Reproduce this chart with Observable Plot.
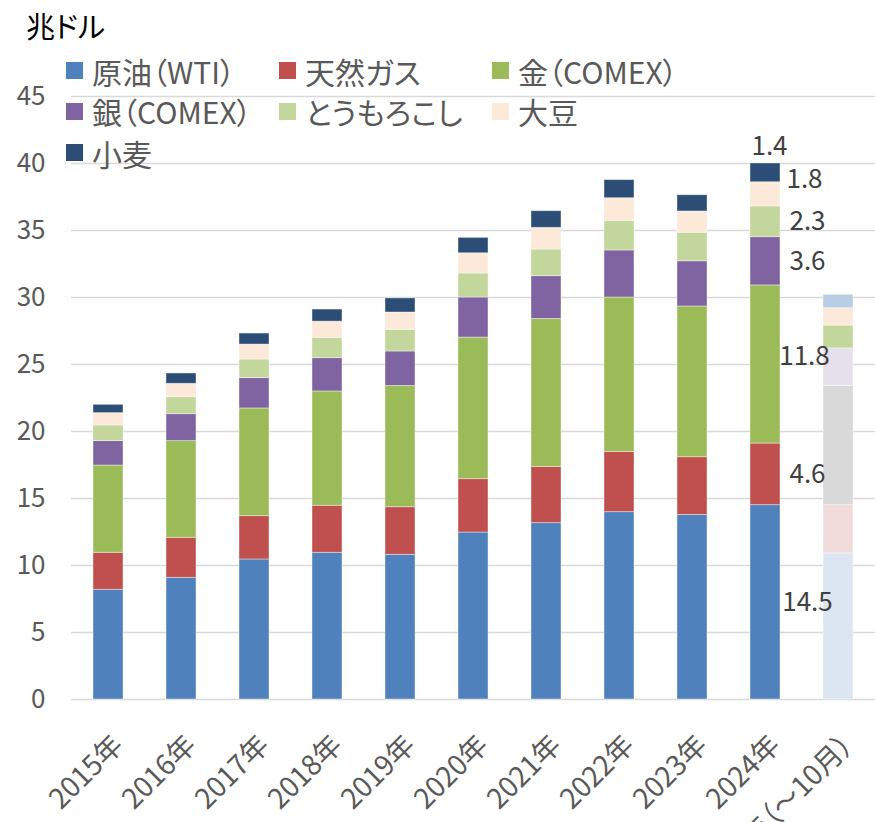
<!DOCTYPE html>
<html><head><meta charset="utf-8">
<script src="https://cdn.jsdelivr.net/npm/d3@7"></script>
<script src="https://cdn.jsdelivr.net/npm/@observablehq/plot@0.6"></script>
<style>
body{margin:0;background:#fff;}
#wrap{position:relative;width:875px;height:822px;overflow:hidden;font-family:"Noto Sans CJK JP","Noto Sans",sans-serif;font-feature-settings:"palt";}
#chart{position:absolute;left:0;top:0;}
#title{position:absolute;left:26px;top:5px;font-size:29px;line-height:40px;color:#000;}
.li{position:absolute;display:flex;align-items:center;height:40px;font-size:30px;color:#595959;white-space:nowrap;}
.sw{width:17px;height:17px;margin-right:9px;flex:none;}
</style></head><body>
<div id="wrap"><div id="chart"></div><div id="title">兆ドル</div><div id="legend"></div></div>
<script>
const years = ["2015年","2016年","2017年","2018年","2019年","2020年","2021年","2022年","2023年","2024年","2025年（～10月）"];
const series = ["原油（WTI）","天然ガス","金（COMEX）","銀（COMEX）","とうもろこし","大豆","小麦"];
const oil    = [8.19, 9.08, 10.45, 10.95, 10.80, 12.46, 13.16, 13.98, 13.77, 14.5, 10.9];
const gas    = [2.76, 2.99,  3.23,  3.51,  3.55,  3.98,  4.20,  4.50,  4.31,  4.6,  3.6];
const gold   = [6.51, 7.21,  8.04,  8.53,  9.05, 10.57, 11.04, 11.52, 11.25, 11.8,  8.9];
const silver = [1.82, 2.01,  2.26,  2.48,  2.57,  2.99,  3.19,  3.51,  3.37,  3.6,  2.8];
const corn   = [1.17, 1.27,  1.39,  1.52,  1.62,  1.79,  1.99,  2.21,  2.13,  2.3,  1.7];
const soy    = [0.92, 1.00,  1.12,  1.21,  1.29,  1.51,  1.62,  1.69,  1.59,  1.8,  1.3];
const wheat  = [0.62, 0.77,  0.82,  0.90,  1.05,  1.15,  1.24,  1.35,  1.21,  1.4,  1.0];
const colors        = ["#4f81bd","#c0504d","#9bbb59","#8064a2","#c3d69b","#fde9d9","#2c4d75"];
const colorsPartial = ["#dce6f2","#f2dcdb","#d9d9d9","#e6e0ec","#c3d69b","#fde9d9","#b9cde5"];
const partialYear = "2025年（～10月）";
const labelYear = "2024年";
const yTicks = [0,5,10,15,20,25,30,35,40,45];

const values = [oil, gas, gold, silver, corn, soy, wheat];
const rows = [];
years.forEach((yr, i) => {
  series.forEach((s, j) => {
    rows.push({year: yr, series: s, si: j, value: values[j][i],
      color: yr === partialYear ? colorsPartial[j] : colors[j]});
  });
});
const rowsLabel = rows.filter(d => d.year === labelYear);
const fmt = d3.format(".1f");
const lab = (set) => d => set.includes(d.si) ? fmt(d.value) : null;

const font = '"Noto Sans CJK JP","Noto Sans",sans-serif';
const chart = Plot.plot({
  width: 875, height: 822,
  marginLeft: 71, marginRight: 0, marginTop: 96, marginBottom: 123,
  style: {fontFamily: font, background: "transparent", overflow: "visible"},
  x: {type: "band", domain: years, paddingInner: 0.59, paddingOuter: 0.295, label: null},
  y: {domain: [0, 45], label: null},
  color: {type: "identity"},
  marks: [
    Plot.gridY(yTicks, {stroke: "#d9d9d9", strokeOpacity: 1, strokeWidth: 1.5}),
    Plot.axisY(yTicks, {tickSize: 0, tickPadding: 26, fontSize: 26, color: "#595959", label: null}),
    Plot.axisX({tickSize: 0, tickRotate: -45, tickPadding: 41, dx: 10, fontSize: 28, color: "#595959", label: null}),
    Plot.barY(rows, {x: "year", y: "value", fill: "color", stroke: "#ffffff", strokeOpacity: 0.5, strokeWidth: 0.8}),
    Plot.text(rowsLabel, Plot.stackY({x: "year", y: "value", text: lab([0,1,3,4]), dx: 42, fontSize: 26, fill: "#404040"})),
    Plot.text(rowsLabel, Plot.stackY({x: "year", y: "value", text: lab([2]), dx: 39, dy: -8, fontSize: 26, fill: "#404040"})),
    Plot.text(rowsLabel, Plot.stackY({x: "year", y: "value", text: lab([5]), dx: 39, dy: -15, fontSize: 26, fill: "#404040"})),
    Plot.text(rowsLabel, Plot.stackY({x: "year", y: "value", text: lab([6]), dx: 4, dy: -26, fontSize: 26, fill: "#404040"}))
  ]
});
document.getElementById("chart").appendChild(chart);

// legend
const legend = document.getElementById("legend");
const colX = [66, 279, 492];
const rowY = [70.5, 111, 152.5];
series.forEach((s, j) => {
  const div = document.createElement("div");
  div.className = "li";
  div.style.left = colX[j % 3] + "px";
  div.style.top = (rowY[Math.floor(j / 3)] - 20) + "px";
  div.innerHTML = `<span class="sw" style="background:${colors[j]}"></span><span>${s}</span>`;
  legend.appendChild(div);
});
</script>
</body></html>
